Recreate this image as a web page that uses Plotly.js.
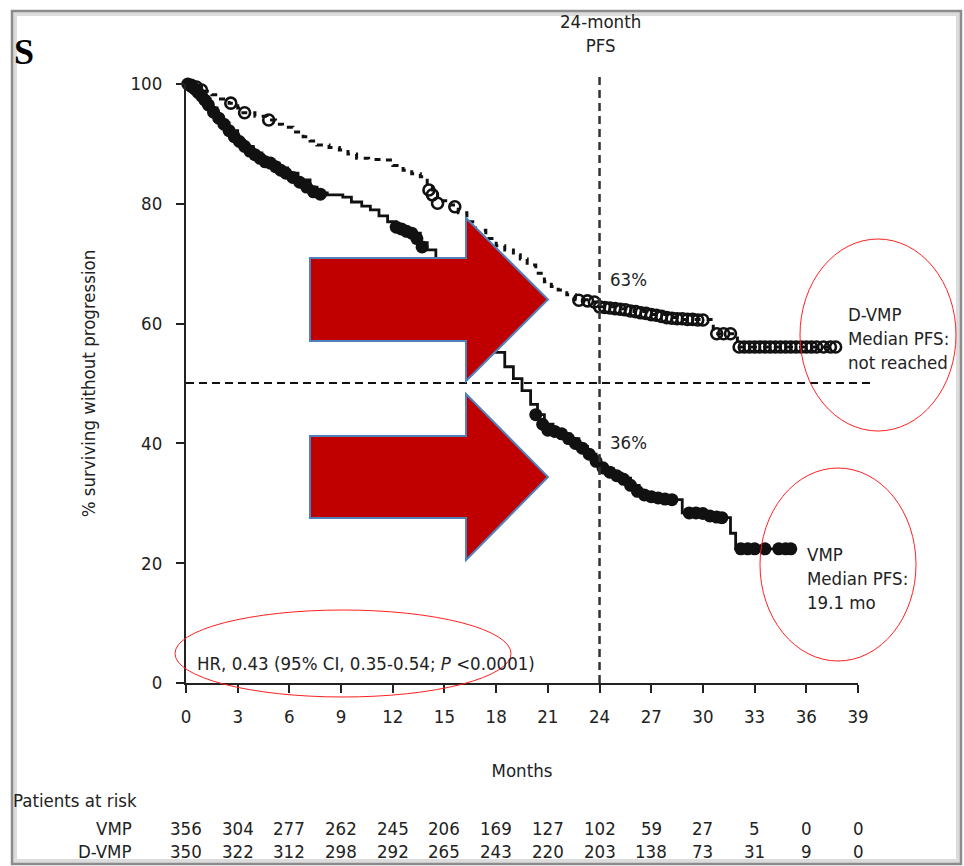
<!DOCTYPE html>
<html><head><meta charset="utf-8">
<script src="https://cdn.plot.ly/plotly-3.0.1.min.js"></script>
<style>html,body{margin:0;padding:0;background:#fff;} #chart{width:964px;height:866px;}</style>
</head><body><div id="chart"></div>
<script>
// ---------------- DATA ----------------
const riskMonths = [0, 3, 6, 9, 12, 15, 18, 21, 24, 27, 30, 33, 36, 39];
const vmpAtRisk  = [356, 304, 277, 262, 245, 206, 169, 127, 102, 59, 27, 5, 0, 0];
const dvmpAtRisk = [350, 322, 312, 298, 292, 265, 243, 220, 203, 138, 73, 31, 9, 0];
const yTicks = [0, 20, 40, 60, 80, 100];

// VMP Kaplan-Meier steps (month of event, % PFS after event)
const vmpMonths = [0, 0.3, 0.6, 1.0, 1.4, 1.8, 2.1, 2.5, 3.0, 3.4, 3.9, 4.4, 4.9, 5.4, 5.9, 6.5, 7.2, 7.6, 8.2, 9.1, 9.6, 10.2, 10.7, 11.2, 11.7, 12.2, 12.7, 13.2, 13.6, 14.0, 14.5, 15.0, 15.5, 16.0, 16.5, 17.0, 17.5, 18.0, 18.5, 19.0, 19.5, 20.0, 20.4, 20.8, 21.3, 21.8, 22.3, 22.8, 23.3, 23.8, 24.3, 24.8, 25.3, 25.8, 26.3, 26.8, 27.4, 28.0, 28.8, 30.4, 30.9, 31.6, 31.9, 35.1];
const vmpPFS    = [100, 99.4, 98.6, 97.5, 96.0, 94.6, 93.5, 92.2, 90.6, 89.6, 88.5, 87.6, 86.8, 86.0, 85.1, 84.0, 82.8, 81.8, 81.5, 81.1, 80.3, 79.6, 79.0, 78.0, 77.0, 76.1, 75.6, 75.1, 73.5, 72.3, 70.5, 68.5, 66.5, 64.5, 62.5, 60.0, 57.5, 55.2, 52.8, 50.8, 48.8, 46.5, 44.8, 43.2, 42.2, 41.6, 40.8, 39.5, 38.2, 36.7, 35.8, 35.0, 34.2, 33.0, 31.8, 31.2, 30.9, 30.6, 28.4, 27.9, 27.6, 25.0, 22.4, 22.4];
// VMP censor marks
const vmpCensorMonths = [0.1, 0.3, 0.5, 0.7, 0.9, 1.1, 1.3, 1.6, 1.9, 2.2, 2.5, 2.8, 3.1, 3.4, 3.7, 4.0, 4.3, 4.6, 4.9, 5.2, 5.5, 5.8, 6.2, 6.6, 7.0, 7.4, 7.8, 12.2, 12.5, 12.8, 13.1, 13.4, 13.7, 20.3, 20.7, 21.0, 21.4, 21.8, 22.2, 22.6, 23.0, 23.4, 23.8, 24.2, 24.6, 25.0, 25.4, 25.8, 26.2, 26.6, 27.0, 27.4, 27.8, 28.2, 29.2, 29.6, 30.0, 30.4, 30.8, 31.1, 32.2, 32.6, 33.0, 33.6, 34.4, 34.8, 35.1];
const vmpCensorPFS    = [100, 99.6, 99.2, 98.6, 98.0, 97.3, 96.5, 95.3, 94.3, 93.3, 92.2, 91.2, 90.4, 89.6, 88.8, 88.2, 87.6, 87.0, 86.8, 86.2, 85.6, 85.1, 84.4, 83.6, 82.8, 82.0, 81.6, 76.1, 75.8, 75.4, 75.1, 74.2, 72.8, 44.8, 43.2, 42.2, 42.0, 41.6, 40.8, 40.0, 39.2, 38.2, 37.0, 35.9, 35.2, 34.6, 34.0, 33.0, 32.0, 31.4, 31.1, 30.9, 30.7, 30.6, 28.4, 28.4, 28.3, 27.9, 27.7, 27.6, 22.4, 22.4, 22.4, 22.4, 22.4, 22.4, 22.4];

// D-VMP Kaplan-Meier steps
const dvmpMonths = [0, 0.5, 1.0, 1.5, 2.0, 2.5, 3.0, 3.3, 4.0, 4.7, 5.2, 5.6, 6.2, 6.8, 7.2, 7.6, 8.3, 8.9, 9.4, 9.9, 10.6, 11.4, 12.0, 12.6, 13.1, 13.6, 14.0, 14.3, 14.6, 15.2, 15.8, 16.3, 16.8, 17.4, 18.0, 18.5, 19.0, 19.4, 19.8, 20.3, 20.8, 21.2, 21.6, 22.1, 22.6, 23.5, 24.0, 25.0, 26.0, 27.0, 28.0, 28.5, 30.6, 32.0, 37.7];
const dvmpPFS    = [100, 99.5, 98.8, 98.2, 97.5, 96.8, 96.0, 95.2, 94.6, 94.0, 93.3, 92.8, 92.0, 91.2, 90.5, 89.8, 89.4, 89.0, 88.3, 87.6, 87.4, 87.3, 86.4, 85.6, 85.0, 84.5, 83.3, 82.0, 80.5, 79.8, 78.5, 77.0, 75.6, 74.2, 73.0, 72.3, 71.5, 70.8, 69.8, 68.4, 67.0, 66.2, 65.6, 64.8, 64.0, 63.6, 62.8, 62.5, 62.0, 61.5, 61.0, 60.7, 58.3, 56.1, 56.1];
// D-VMP censor marks
const dvmpCensorMonths = [0.3, 0.6, 0.9, 2.6, 3.4, 4.8, 14.1, 14.3, 14.6, 15.6, 22.8, 23.3, 23.7, 24.0, 24.3, 24.6, 24.9, 25.2, 25.5, 25.8, 26.1, 26.4, 26.7, 27.0, 27.3, 27.6, 27.9, 28.2, 28.5, 28.8, 29.1, 29.4, 29.7, 30.0, 30.8, 31.2, 31.6, 32.1, 32.4, 32.7, 33.0, 33.3, 33.6, 33.9, 34.2, 34.5, 34.8, 35.1, 35.4, 35.7, 36.0, 36.3, 36.6, 37.0, 37.4, 37.7];
const dvmpCensorPFS    = [99.8, 99.5, 99.0, 96.8, 95.2, 94.0, 82.3, 81.5, 80.1, 79.5, 63.9, 63.8, 63.6, 62.8, 62.7, 62.6, 62.5, 62.4, 62.3, 62.1, 62.0, 61.8, 61.7, 61.5, 61.4, 61.2, 61.0, 60.9, 60.8, 60.8, 60.7, 60.7, 60.6, 60.6, 58.3, 58.3, 58.3, 56.1, 56.1, 56.1, 56.1, 56.1, 56.1, 56.1, 56.1, 56.1, 56.1, 56.1, 56.1, 56.1, 56.1, 56.1, 56.1, 56.1, 56.1, 56.1];

// ---------------- LAYOUT HELPERS ----------------
const W = 964, H = 866;
const L = 186, R = 858, T = 84, B = 683;
const px = v => (v - L) / (R - L);
const py = v => (B - v) / (B - T);
const FONT = '"DejaVu Sans Condensed", "Liberation Sans", sans-serif';
const FS = 18.5;
const INK = '#222';

const traces = [
  {x: dvmpMonths, y: dvmpPFS, mode: 'lines', line: {shape: 'hv', color: '#111', width: 3, dash: '6px,6px'}, cliponaxis: false, hoverinfo: 'skip'},
  {x: dvmpCensorMonths, y: dvmpCensorPFS, mode: 'markers', marker: {symbol: 'circle-open', size: 11, color: '#111', line: {width: 2.6, color: '#111'}}, cliponaxis: false},
  {x: vmpMonths, y: vmpPFS, mode: 'lines', line: {shape: 'hv', color: '#111', width: 2.8}, cliponaxis: false},
  {x: vmpCensorMonths, y: vmpCensorPFS, mode: 'markers', marker: {symbol: 'circle', size: 13, color: '#111'}, cliponaxis: false}
];

function txt(text, x, y, xanchor, extra) {
  return Object.assign({text: text, xref: 'paper', yref: 'paper', x: px(x), y: py(y), xanchor: xanchor, yanchor: 'middle', showarrow: false, font: {family: FONT, size: FS, color: INK}}, extra || {});
}

const annotations = [
  txt('S', 12, 52, 'left', {font: {family: '"Liberation Serif", "Times New Roman", serif', size: 36, color: '#000', weight: 'bold'}}),
  txt('24-month<br>PFS', 600, 34, 'center'),
  txt('63%', 608, 279, 'left'),
  txt('36%', 608, 442, 'left'),
  txt('D-VMP<br>Median PFS:<br>not reached', 846, 338, 'left', {align: 'left'}),
  txt('VMP<br>Median PFS:<br>19.1 mo', 805, 578, 'left', {align: 'left'}),
  txt('HR, 0.43 (95% CI, 0.35-0.54; <i>P</i> &lt;0.0001)', 195, 663, 'left'),
  txt('Patients at risk', 11, 800, 'left'),
  txt('VMP', 134, 828, 'right'),
  txt('D-VMP', 134, 851, 'right')
];
riskMonths.forEach((m, i) => {
  annotations.push({text: String(vmpAtRisk[i]), xref: 'x', yref: 'paper', x: m, y: py(828), xanchor: 'center', yanchor: 'middle', showarrow: false, font: {family: FONT, size: FS, color: INK}});
  annotations.push({text: String(dvmpAtRisk[i]), xref: 'x', yref: 'paper', x: m, y: py(851), xanchor: 'center', yanchor: 'middle', showarrow: false, font: {family: FONT, size: FS, color: INK}});
});

function arrowPath(x0, bodyTop, bodyBot, xh, headTop, headBot, tip) {
  const tipY = (headTop + headBot) / 2;
  const pts = [[x0, bodyTop], [xh, bodyTop], [xh, headTop], [tip, tipY], [xh, headBot], [xh, bodyBot], [x0, bodyBot]];
  return 'M' + pts.map(p => px(p[0]).toFixed(5) + ',' + py(p[1]).toFixed(5)).join(' L') + ' Z';
}
function ellipse(x0, y0, x1, y1) {
  return {type: 'circle', xref: 'paper', yref: 'paper', x0: px(x0), x1: px(x1), y0: py(y1), y1: py(y0), line: {color: '#ff2020', width: 1}, fillcolor: 'rgba(0,0,0,0)'};
}

const shapes = [
  // slide frame
  {type: 'rect', xref: 'paper', yref: 'paper', x0: px(15), x1: px(958), y0: py(861), y1: py(14), line: {color: '#dcdcdc', width: 4}, layer: 'below'},
  {type: 'rect', xref: 'paper', yref: 'paper', x0: px(12), x1: px(961), y0: py(864), y1: py(11), line: {color: '#8c8c8c', width: 2.5}, layer: 'below'},
  // reference lines
  {type: 'line', xref: 'paper', yref: 'paper', x0: px(L), x1: px(871), y0: py(383), y1: py(383), line: {color: '#111', width: 2, dash: '8px,5px'}},
  {type: 'line', xref: 'paper', yref: 'paper', x0: 24 / 39, x1: 24 / 39, y0: 0, y1: py(72), line: {color: '#333', width: 2.5, dash: '8px,5px'}},
  // red arrows
  {type: 'path', xref: 'paper', yref: 'paper', path: arrowPath(310, 258, 341, 466, 218, 381, 548), fillcolor: '#c00000', line: {color: '#4f81bd', width: 2}},
  {type: 'path', xref: 'paper', yref: 'paper', path: arrowPath(310, 436, 518, 466, 394, 560, 548), fillcolor: '#c00000', line: {color: '#4f81bd', width: 2}},
  // red ellipses
  ellipse(175, 610, 511, 697),
  ellipse(800, 239, 956, 431),
  ellipse(760, 468, 916, 661)
];

const axisCommon = {
  showline: true, linecolor: INK, linewidth: 2, ticks: 'outside', ticklen: 8, tickwidth: 2, tickcolor: INK,
  showgrid: false, zeroline: false, fixedrange: true,
  tickfont: {family: FONT, size: FS, color: INK}
};

const layout = {
  width: W, height: H,
  margin: {l: L, r: W - R, t: T, b: H - B},
  paper_bgcolor: '#fff', plot_bgcolor: '#fff',
  showlegend: false,
  xaxis: Object.assign({}, axisCommon, {range: [0, 39], tickmode: 'array', tickvals: riskMonths, ticklabelstandoff: 8,
    title: {text: 'Months', font: {family: FONT, size: FS, color: INK}, standoff: 38}}),
  yaxis: Object.assign({}, axisCommon, {range: [0, 100], tickmode: 'array', tickvals: yTicks, ticklabelstandoff: 10,
    title: {text: '% surviving without progression', font: {family: FONT, size: FS, color: INK}, standoff: 30}}),
  annotations: annotations,
  shapes: shapes
};

Plotly.newPlot('chart', traces, layout, {displayModeBar: false, staticPlot: true});
</script></body></html>
